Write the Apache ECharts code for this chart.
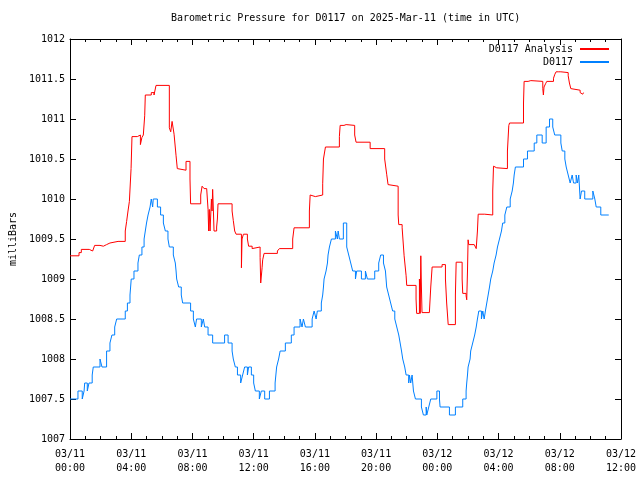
<!DOCTYPE html>
<html>
<head>
<meta charset="utf-8">
<script src="https://cdn.jsdelivr.net/npm/echarts@6/dist/echarts.min.js"></script>
<style>html,body{margin:0;padding:0;background:#fff}#c{width:640px;height:480px}</style>
</head>
<body>
<div id="c"></div>
<script>
// Hours since 2025-03-11 00:00 UTC, pressure in millibars (value holds from that hour)
const bluePoints = [[0,1007.5],[0.52,1007.6],[0.8,1007.5],[0.92,1007.6],[0.96,1007.7],[1.13,1007.6],[1.24,1007.7],[1.45,1007.8],[1.52,1007.9],[1.96,1008.0],[2.09,1007.9],[2.39,1008.1],[2.61,1008.2],[2.74,1008.3],[2.92,1008.4],[3.05,1008.5],[3.61,1008.6],[3.75,1008.7],[3.92,1008.8],[3.96,1008.9],[4.0,1009.0],[4.18,1009.1],[4.44,1009.2],[4.53,1009.3],[4.7,1009.4],[4.84,1009.5],[4.92,1009.6],[5.0,1009.7],[5.1,1009.8],[5.23,1009.9],[5.31,1010.0],[5.4,1009.9],[5.44,1010.0],[5.71,1009.9],[5.92,1009.8],[6.1,1009.7],[6.23,1009.6],[6.4,1009.5],[6.49,1009.4],[6.75,1009.3],[6.88,1009.2],[6.93,1009.1],[6.97,1009.0],[7.1,1008.9],[7.27,1008.8],[7.36,1008.7],[7.88,1008.6],[8.06,1008.5],[8.19,1008.4],[8.27,1008.5],[8.58,1008.4],[8.71,1008.5],[8.8,1008.4],[9.02,1008.3],[9.32,1008.2],[10.1,1008.3],[10.33,1008.2],[10.59,1008.1],[10.67,1008.0],[10.8,1007.9],[10.94,1007.8],[11.15,1007.7],[11.28,1007.8],[11.41,1007.9],[11.59,1007.8],[11.67,1007.9],[11.85,1007.8],[12.0,1007.7],[12.11,1007.6],[12.37,1007.5],[12.5,1007.6],[12.72,1007.5],[13.03,1007.6],[13.4,1007.7],[13.45,1007.8],[13.5,1007.9],[13.63,1008.0],[13.73,1008.1],[14.07,1008.2],[14.46,1008.3],[14.64,1008.4],[15.03,1008.5],[15.16,1008.4],[15.25,1008.5],[15.38,1008.4],[15.82,1008.5],[15.95,1008.6],[16.08,1008.5],[16.16,1008.6],[16.42,1008.7],[16.51,1008.8],[16.56,1008.9],[16.6,1009.0],[16.73,1009.1],[16.82,1009.2],[16.86,1009.3],[16.95,1009.4],[17.08,1009.5],[17.34,1009.6],[17.47,1009.5],[17.52,1009.6],[17.6,1009.5],[17.86,1009.7],[18.08,1009.4],[18.21,1009.3],[18.34,1009.2],[18.47,1009.1],[18.65,1009.0],[18.73,1009.1],[19.04,1009.0],[19.3,1009.1],[19.43,1009.0],[19.91,1009.1],[20.17,1009.2],[20.3,1009.3],[20.48,1009.2],[20.61,1009.1],[20.69,1008.9],[20.82,1008.8],[20.95,1008.7],[21.08,1008.6],[21.22,1008.5],[21.35,1008.4],[21.48,1008.3],[21.57,1008.2],[21.66,1008.1],[21.74,1008.0],[21.87,1007.9],[21.96,1007.8],[22.13,1007.7],[22.18,1007.8],[22.26,1007.7],[22.35,1007.8],[22.44,1007.6],[22.57,1007.5],[22.96,1007.4],[23.09,1007.3],[23.27,1007.4],[23.31,1007.3],[23.44,1007.4],[23.57,1007.5],[23.97,1007.6],[24.14,1007.5],[24.18,1007.4],[24.79,1007.3],[25.18,1007.4],[25.66,1007.5],[25.88,1007.6],[25.92,1007.7],[25.97,1007.8],[26.01,1007.9],[26.14,1008.0],[26.18,1008.1],[26.31,1008.2],[26.44,1008.3],[26.54,1008.4],[26.62,1008.5],[26.71,1008.6],[26.88,1008.5],[26.97,1008.6],[27.06,1008.5],[27.14,1008.6],[27.23,1008.7],[27.32,1008.8],[27.41,1008.9],[27.49,1009.0],[27.62,1009.1],[27.71,1009.2],[27.84,1009.3],[27.93,1009.4],[28.06,1009.5],[28.19,1009.6],[28.27,1009.7],[28.41,1009.8],[28.54,1009.9],[28.76,1010.0],[28.89,1010.1],[28.97,1010.2],[29.02,1010.3],[29.1,1010.4],[29.63,1010.5],[29.89,1010.6],[30.33,1010.7],[30.5,1010.8],[30.85,1010.7],[31.11,1010.9],[31.33,1011.0],[31.54,1010.9],[31.67,1010.8],[32.07,1010.7],[32.16,1010.6],[32.33,1010.5],[32.42,1010.4],[32.55,1010.3],[32.68,1010.2],[32.81,1010.3],[32.9,1010.2],[33.07,1010.3],[33.16,1010.2],[33.24,1010.3],[33.33,1010.0],[33.42,1010.1],[33.63,1010.0],[34.16,1010.1],[34.29,1010.0],[34.38,1009.9],[34.68,1009.8],[35.2,1009.8]];

const redPoints = [[0,1009.29],[0.59,1009.33],[0.74,1009.37],[1.26,1009.35],[1.48,1009.33],[1.61,1009.42],[1.96,1009.41],[2.18,1009.43],[2.39,1009.45],[2.61,1009.47],[3.14,1009.46],[3.27,1009.47],[3.61,1009.6],[3.7,1009.72],[3.79,1009.85],[3.88,1009.97],[3.99,1010.38],[4.05,1010.78],[4.4,1010.76],[4.53,1010.8],[4.6,1010.68],[4.7,1010.77],[4.79,1010.8],[4.88,1011.04],[4.92,1011.3],[5.31,1011.33],[5.49,1011.3],[5.62,1011.42],[5.88,1011.43],[6.01,1011.42],[6.49,1010.89],[6.58,1010.84],[6.67,1010.97],[6.8,1010.81],[6.93,1010.54],[7.01,1010.38],[7.1,1010.36],[7.58,1010.47],[7.84,1010.25],[7.88,1009.94],[8.54,1010.05],[8.63,1010.16],[8.76,1010.13],[8.93,1010.14],[9.02,1009.87],[9.06,1009.6],[9.1,1009.87],[9.15,1009.6],[9.24,1010.0],[9.28,1009.85],[9.32,1010.12],[9.37,1009.85],[9.41,1009.6],[9.58,1009.65],[9.63,1009.75],[9.67,1009.94],[10.59,1009.85],[10.67,1009.73],[10.76,1009.6],[10.85,1009.56],[11.2,1009.14],[11.24,1009.5],[11.33,1009.56],[11.59,1009.5],[11.67,1009.41],[11.9,1009.38],[12.03,1009.4],[12.42,1009.27],[12.46,1008.95],[12.55,1009.14],[12.59,1009.24],[12.68,1009.32],[13.55,1009.35],[13.68,1009.38],[14.55,1009.5],[14.64,1009.64],[14.9,1009.66],[15.03,1009.64],[15.64,1009.85],[15.69,1010.05],[15.77,1010.03],[16.03,1010.05],[16.51,1010.19],[16.56,1010.5],[16.69,1010.65],[17.6,1010.78],[17.65,1010.92],[17.9,1010.93],[18.04,1010.92],[18.6,1010.8],[18.69,1010.71],[19.61,1010.63],[20.56,1010.5],[20.69,1010.31],[20.78,1010.18],[20.87,1010.16],[21.44,1009.8],[21.48,1009.68],[21.7,1009.64],[21.83,1009.29],[21.96,1009.04],[22.0,1008.92],[22.61,1008.75],[22.65,1008.57],[22.83,1009.0],[22.88,1008.57],[22.92,1009.29],[22.96,1008.9],[23.0,1008.58],[23.48,1008.56],[23.57,1008.9],[23.66,1009.15],[24.31,1009.18],[24.53,1009.0],[24.61,1008.7],[24.71,1008.43],[25.18,1008.8],[25.23,1009.21],[25.62,1009.0],[25.66,1008.82],[25.88,1008.79],[25.92,1008.74],[25.97,1009.1],[26.01,1009.49],[26.05,1009.43],[26.41,1009.42],[26.54,1009.38],[26.62,1009.6],[26.67,1009.81],[27.1,1009.8],[27.62,1010.1],[27.67,1010.41],[27.75,1010.39],[27.88,1010.38],[28.58,1010.6],[28.67,1010.92],[28.72,1010.95],[29.63,1011.2],[29.67,1011.47],[29.93,1011.48],[30.11,1011.47],[30.89,1011.38],[30.93,1011.3],[30.97,1011.4],[31.07,1011.44],[31.15,1011.47],[31.59,1011.51],[31.68,1011.56],[31.76,1011.59],[31.9,1011.58],[31.98,1011.59],[32.07,1011.58],[32.55,1011.54],[32.63,1011.45],[32.72,1011.38],[32.8,1011.36],[33.33,1011.33],[33.42,1011.31],[33.5,1011.33],[33.55,1011.33]];

const seriesNames = ['D0117 Analysis', 'D0117'];
const titleText = 'Barometric Pressure for D0117 on 2025-Mar-11 (time in UTC)';
const yAxisName = 'milliBars';
const xTickDates = ['03/11', '03/12'];

const FONT = 'DejaVu Sans Mono';
function xLabel(v) {
  const day = Math.floor(v / 24);
  const hr = Math.round(v - day * 24);
  const d = xTickDates[Math.min(day, xTickDates.length - 1)];
  return d + '\n' + (hr < 10 ? '0' : '') + hr + ':00';
}
function yLabel(v) { return String(Math.round(v * 10) / 10); }
const chart = echarts.init(document.getElementById('c'), null, {renderer: 'canvas'});
const axisCommon = {
  axisLine: {show: true, onZero: false, lineStyle: {color: '#000', width: 1}},
  splitLine: {show: false}
};
chart.setOption({
  animation: false,
  backgroundColor: '#fff',
  title: {
    text: titleText, left: 171, top: 13, padding: 0,
    textStyle: {fontFamily: FONT, fontSize: 10, fontWeight: 'normal', color: '#000'}
  },
  legend: {
    orient: 'vertical', align: 'right', right: 30, top: 44,
    itemWidth: 29, itemHeight: 10, itemGap: 3, padding: 0,
    itemStyle: {opacity: 0},
    textStyle: {fontFamily: FONT, fontSize: 10, color: '#000', padding: [0, 2, 0, 0]},
    data: seriesNames
  },
  grid: {left: 70, top: 39, width: 551, height: 400, containLabel: false, outerBoundsMode: 'none'},
  xAxis: [
    Object.assign({}, axisCommon, {
      type: 'value', min: 0, max: 36, interval: 4, position: 'bottom',
      axisTick: {show: true, inside: true, length: 6, lineStyle: {color: '#000'}},
      minorTick: {show: true, splitNumber: 4, length: 3, lineStyle: {color: '#000'}},
      axisLabel: {formatter: xLabel, fontFamily: FONT, fontSize: 10, color: '#000', margin: 8, lineHeight: 14}
    }),
    Object.assign({}, axisCommon, {
      type: 'value', min: 0, max: 36, interval: 4, position: 'top',
      axisTick: {show: true, inside: true, length: 6, lineStyle: {color: '#000'}},
      minorTick: {show: true, splitNumber: 4, length: 3, lineStyle: {color: '#000'}},
      axisLabel: {show: false}
    })
  ],
  yAxis: [
    Object.assign({}, axisCommon, {
      type: 'value', min: 1007, max: 1012, interval: 0.5, position: 'left',
      name: yAxisName, nameLocation: 'middle', nameRotate: 90, nameGap: 52,
      nameTextStyle: {fontFamily: FONT, fontSize: 10, color: '#000'},
      axisTick: {show: true, inside: true, length: 6, lineStyle: {color: '#000'}},
      axisLabel: {formatter: yLabel, fontFamily: FONT, fontSize: 10, color: '#000', margin: 5}
    }),
    Object.assign({}, axisCommon, {
      type: 'value', min: 1007, max: 1012, interval: 0.5, position: 'right',
      axisTick: {show: true, inside: true, length: 6, lineStyle: {color: '#000'}},
      axisLabel: {show: false}
    })
  ],
  series: [
    {
      name: seriesNames[0], type: 'line', step: 'end', symbol: 'none',
      xAxisIndex: 0, yAxisIndex: 0,
      lineStyle: {color: '#ff0000', width: 1}, itemStyle: {color: '#ff0000'},
      data: redPoints
    },
    {
      name: seriesNames[1], type: 'line', step: 'end', symbol: 'none',
      xAxisIndex: 0, yAxisIndex: 0,
      lineStyle: {color: '#0080ff', width: 1}, itemStyle: {color: '#0080ff'},
      data: bluePoints
    }
  ]
});
</script>
</body>
</html>
